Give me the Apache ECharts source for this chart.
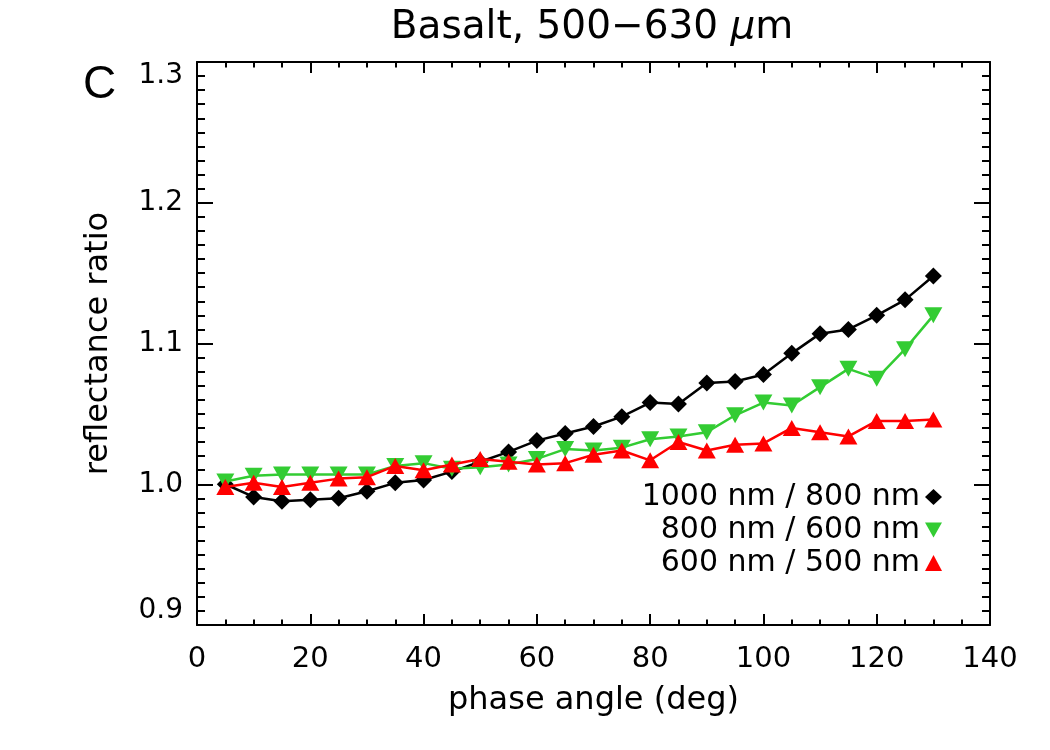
<!DOCTYPE html>
<html><head><meta charset="utf-8">
<script src="https://cdn.jsdelivr.net/npm/echarts@6/dist/echarts.min.js"></script>
<style>html,body{margin:0;padding:0;background:#fff}#c{width:1050px;height:750px}</style>
</head><body><div id="c"></div>
<script>
const phaseAngle = [5,10,15,20,25,30,35,40,45,50,55,60,65,70,75,80,85,90,95,100,105,110,115,120,125,130];
const ratio1000_800 = [1.000,0.991,0.988,0.989,0.990,0.995,1.001,1.003,1.009,1.016,1.023,1.031,1.036,1.041,1.048,1.058,1.057,1.072,1.073,1.078,1.093,1.107,1.110,1.120,1.131,1.148];
const ratio800_600 = [1.002,1.006,1.007,1.007,1.007,1.007,1.013,1.015,1.011,1.012,1.014,1.018,1.025,1.024,1.026,1.032,1.034,1.037,1.049,1.058,1.056,1.069,1.082,1.075,1.096,1.120];
const ratio600_500 = [0.998,1.001,0.998,1.001,1.004,1.005,1.013,1.010,1.014,1.018,1.016,1.014,1.015,1.021,1.024,1.017,1.030,1.024,1.028,1.029,1.040,1.037,1.034,1.045,1.045,1.046];
const seriesNames = ['1000 nm / 800 nm', '800 nm / 600 nm', '600 nm / 500 nm'];
const seriesColors = ['#000000', '#33cc33', '#ff0000'];
const xRange = {min: 0, max: 140, interval: 20};
const yRange = {min: 0.9, max: 1.3, interval: 0.1};
const titleText = 'Basalt, 500\u2212630 ';
const panelLabel = 'C';
const xName = 'phase angle (deg)';
const yName = 'reflectance ratio';

const FONT = 'DejaVu Sans';
const chart = echarts.init(document.getElementById('c'), null, {renderer: 'canvas'});
const pairs = arr => phaseAngle.map((x, i) => [x, arr[i]]);
const axLine = {show: true, onZero: false, lineStyle: {color: '#000', width: 2}};

function xAxisCfg(pos, labels) {
  return {
    type: 'value', position: pos, min: xRange.min, max: xRange.max, interval: xRange.interval,
    axisLine: axLine,
    axisTick: {show: true, inside: true, length: 11, lineStyle: {color: '#000', width: 2}},
    minorTick: {show: true, splitNumber: 4, length: 5.5, lineStyle: {color: '#000', width: 2}},
    splitLine: {show: false}, minorSplitLine: {show: false},
    axisLabel: {show: labels, margin: 20, fontSize: 29, color: '#000', fontFamily: FONT, showMinLabel: true, showMaxLabel: true},
    name: labels ? xName : '', nameLocation: 'middle', nameGap: 60,
    nameTextStyle: {fontSize: 32, color: '#000', fontFamily: FONT}
  };
}
function yAxisCfg(pos, labels) {
  return {
    type: 'value', position: pos, min: yRange.min, max: yRange.max, interval: yRange.interval,
    axisLine: axLine,
    axisTick: {show: true, inside: true, length: 16, lineStyle: {color: '#000', width: 2}},
    minorTick: {show: true, splitNumber: 10, length: 8, lineStyle: {color: '#000', width: 2}},
    splitLine: {show: false}, minorSplitLine: {show: false},
    axisLabel: {show: labels, margin: 14, fontSize: 28, color: '#000', fontFamily: FONT,
      formatter: v => v.toFixed(1), showMinLabel: true, showMaxLabel: true,
      verticalAlignMinLabel: 'bottom', verticalAlignMaxLabel: 'top'},
    name: labels ? yName : '', nameLocation: 'middle', nameGap: 82,
    nameTextStyle: {fontSize: 32, color: '#000', fontFamily: FONT}
  };
}

const symbols = ['diamond', 'triangle', 'triangle'];
const symbolSizes = [17, [18, 16], [18, 16]];
const rotations = [0, 180, 0];
const legendIcons = ['diamond', 'path://M0,0L16,0L8,14Z', 'triangle'];
const legendTops = [482, 515, 548];
const datasets = [ratio1000_800, ratio800_600, ratio600_500];

chart.setOption({
  animation: false,
  backgroundColor: '#fff',
  title: [
    {text: '{a|' + titleText + '}{b|\u03bc}{a|m}', left: 592, top: 8, textAlign: 'center', padding: 0,
     textStyle: {rich: {a: {fontSize: 39, fontWeight: 'normal', fontFamily: FONT, color: '#000'}, b: {fontSize: 39, fontWeight: 'normal', fontFamily: FONT, fontStyle: 'italic', color: '#000'}}}},
    {text: panelLabel, left: 83, top: 62, padding: 0,
     textStyle: {fontSize: 46, fontWeight: 'normal', fontFamily: 'Liberation Sans', color: '#000'}}
  ],
  grid: {left: 197, right: 60, top: 62, bottom: 125, containLabel: false},
  xAxis: [xAxisCfg('bottom', true), xAxisCfg('top', false)],
  yAxis: [yAxisCfg('left', true), yAxisCfg('right', false)],
  legend: seriesNames.map((n, i) => ({
    data: [{name: n, icon: legendIcons[i]}], right: 108, top: legendTops[i], padding: 0,
    align: 'right', orient: 'vertical', itemWidth: 17, itemHeight: 16, itemGap: 0,
    selectedMode: false,
    textStyle: {fontSize: 30, color: '#000', fontFamily: FONT}
  })),
  series: datasets.map((d, i) => ({
    name: seriesNames[i], type: 'line', data: pairs(d), xAxisIndex: 0, yAxisIndex: 0,
    symbol: symbols[i], symbolSize: symbolSizes[i], symbolRotate: rotations[i],
    showAllSymbol: true, z: 2 + i,
    lineStyle: {color: seriesColors[i], width: 2.5},
    itemStyle: {color: seriesColors[i], borderWidth: 0},
    emphasis: {disabled: true}
  }))
});
</script></body></html>
